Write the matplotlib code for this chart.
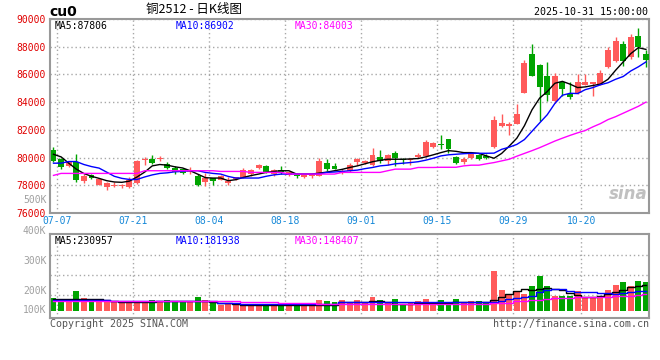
import matplotlib
matplotlib.use('Agg')
import matplotlib.pyplot as plt
import numpy as np

dates = ['07-07', '07-08', '07-09', '07-10', '07-11', '07-14', '07-15', '07-16', '07-17', '07-18',
         '07-21', '07-22', '07-23', '07-24', '07-25', '07-28', '07-29', '07-30', '07-31', '08-01',
         '08-04', '08-05', '08-06', '08-07', '08-08', '08-11', '08-12', '08-13', '08-14', '08-15',
         '08-18', '08-19', '08-20', '08-21', '08-22', '08-25', '08-26', '08-27', '08-28', '08-29',
         '09-01', '09-02', '09-03', '09-04', '09-05', '09-08', '09-09', '09-10', '09-11', '09-12',
         '09-15', '09-16', '09-17', '09-18', '09-19', '09-22', '09-23', '09-24', '09-25', '09-26',
         '09-29', '09-30', '10-09', '10-10', '10-13', '10-14', '10-15', '10-16', '10-17', '10-20',
         '10-21', '10-22', '10-23', '10-24', '10-27', '10-28', '10-29', '10-30', '10-31']

opens = [80550, 79880, 79400, 79690, 78330, 78760, 78050, 77900, 77980, 77930,
         77860, 78170, 79830, 79880, 79900, 79570, 79260, 79170, 78930, 78690,
         78210, 78500, 78400, 78170, 78450, 78550, 78810, 79240, 79380, 78810,
         79070, 78740, 78740, 78570, 78640, 78690, 79640, 79400, 78860, 79050,
         79690, 79600, 79480, 80020, 79760, 80360, 79880, 79790, 80070, 80120,
         80790, 80980, 81310, 80070, 79690, 80000, 80170, 80120, 80760, 82310,
         82260, 82400, 84640, 87450, 86660, 85880, 84050, 85450, 84570, 84670,
         85260, 85290, 85260, 86520, 87000, 88190, 87240, 88790, 87480]
highs = [80790, 79950, 79700, 80240, 78790, 78810, 78460, 78210, 78210, 78120,
         78600, 79810, 80070, 80170, 80120, 79670, 79360, 79260, 79290, 78810,
         78860, 78550, 78760, 78570, 78620, 79240, 79170, 79570, 79450, 79170,
         79360, 79050, 78880, 78780, 78810, 79980, 79880, 79640, 79170, 79590,
         80000, 79830, 80710, 80520, 80290, 80450, 79980, 79980, 80310, 81260,
         81100, 81600, 81360, 80120, 80070, 80360, 80240, 80240, 82980, 83170,
         82550, 83880, 87020, 88160, 86780, 86880, 86070, 85450, 85450, 86000,
         86000, 85450, 86290, 87950, 88710, 88380, 88900, 89330, 87760]
lows = [79700, 79170, 79330, 78260, 78170, 78450, 78000, 77690, 77860, 77790,
        77810, 78100, 79500, 79570, 79760, 79140, 78790, 78810, 78830, 77950,
        77950, 78020, 78350, 78020, 78400, 78500, 78690, 79190, 78880, 78690,
        78810, 78690, 78500, 78500, 78550, 78640, 79050, 79170, 78790, 78930,
        79500, 79550, 79400, 79640, 79500, 79400, 79520, 79500, 80000, 80070,
        80700, 80600, 80360, 79520, 79520, 79930, 79830, 79880, 80710, 82210,
        81600, 82400, 84640, 85880, 82620, 84050, 83930, 84430, 84260, 84570,
        85210, 84430, 85210, 86480, 86880, 86640, 87120, 87290, 86570]
closes = [79760, 79290, 79690, 78400, 78690, 78500, 78450, 78170, 78020, 77980,
          78400, 79760, 79880, 79620, 79950, 79240, 78980, 78860, 79090, 78020,
          78520, 78310, 78690, 78330, 78570, 79100, 79120, 79480, 78930, 79070,
          78980, 78930, 78640, 78710, 78760, 79760, 79170, 79190, 79050, 79450,
          79880, 79760, 80170, 79760, 80190, 80000, 79830, 79930, 80190, 81120,
          81020, 80930, 80640, 79600, 79880, 80240, 79930, 79980, 82740, 82500,
          82450, 83170, 86830, 85880, 85120, 84480, 85860, 84980, 84380, 85450,
          85450, 85450, 86100, 87790, 88430, 86950, 88710, 87950, 87050]

ma5 = [80237, 80050, 79600, 79166, 78850, 78650, 78500, 78333, 78240, 78214,
       78300, 78600, 78950, 79400, 79500, 79450, 79330, 79250, 79050, 78800,
       78550, 78520, 78524, 78333, 78405, 78570, 78700, 78810, 78930, 79000,
       79050, 79050, 78810, 78810, 78810, 78880, 78950, 79050, 79150, 79285,
       79400, 79550, 79700, 79800, 79880, 79880, 79880, 79900, 79930, 80050,
       80200, 80357, 80500, 80450, 80357, 80357, 80300, 80120, 79950, 80300,
       80830, 81400, 82300, 83450, 84290, 84760, 85360, 85500, 85300, 85050,
       85100, 85200, 85300, 85650, 86300, 86900, 87500, 87930, 87806]
ma10 = [79595, 79595, 79714, 79714, 79500, 79350, 79240, 78950, 78650, 78500,
        78420, 78420, 78600, 78750, 78857, 78900, 78976, 79000, 79050, 79050,
        78930, 78857, 78810, 78640, 78524, 78524, 78524, 78524, 78650, 78750,
        78810, 78810, 78810, 78810, 78810, 78830, 78930, 78960, 79000, 79050,
        79095, 79200, 79285, 79400, 79450, 79550, 79595, 79640, 79700, 79810,
        79950, 80120, 80200, 80240, 80280, 80310, 80310, 80310, 80320, 80595,
        80750, 80950, 81300, 81900, 82500, 83090, 83900, 84500, 84640, 84620,
        84900, 85050, 85250, 85400, 85650, 85850, 86250, 86550, 86902]
ma30 = [78714, 78857, 78857, 78857, 78857, 78857, 78857, 78857, 78857, 78857,
        78857, 78857, 79050, 79050, 79050, 79050, 79050, 79050, 79050, 79050,
        79050, 79050, 79000, 79000, 79000, 79000, 78930, 78930, 78930, 78930,
        78930, 78810, 78810, 78810, 78810, 78810, 78810, 78810, 78930, 78930,
        78930, 78930, 78930, 78930, 79050, 79166, 79166, 79166, 79285, 79285,
        79285, 79300, 79300, 79300, 79400, 79450, 79450, 79550, 79640, 79760,
        79880, 80100, 80300, 80500, 80714, 80950, 81190, 81400, 81600, 81785,
        81950, 82214, 82450, 82740, 82950, 83200, 83450, 83700, 84003]

volumes = [120000, 88000, 78000, 180000, 116000, 86000, 92000, 92000, 78000, 80000,
           80000, 85000, 86000, 98000, 88000, 100000, 86000, 86000, 86000, 128000,
           100000, 86000, 57000, 72000, 72000, 57000, 66000, 57000, 57000, 57000,
           66000, 72000, 57000, 72000, 57000, 101000, 86000, 78000, 95000, 78000,
           95000, 72000, 122000, 95000, 72000, 110000, 57000, 72000, 86000, 110000,
           72000, 101000, 72000, 110000, 78000, 86000, 86000, 72000, 350000, 189000,
           145000, 174000, 154000, 224000, 306000, 224000, 130000, 130000, 137000, 174000,
           121000, 121000, 130000, 189000, 233000, 253000, 218000, 268000, 260000]
vol_ma5 = [107000, 107000, 107000, 107000, 107000, 105000, 107000, 100000, 86000, 80000,
           78000, 78000, 78000, 80000, 86000, 86000, 86000, 86000, 86000, 90000,
           90000, 78000, 75000, 68000, 60000, 56000, 56000, 56000, 56000, 57000,
           57000, 57000, 57000, 57000, 55000, 52000, 52000, 55000, 78000, 78000,
           80000, 84000, 86000, 86000, 80000, 66000, 66000, 66000, 70000, 76000,
           72000, 72000, 75000, 80000, 80000, 80000, 82000, 80000, 100000, 124000,
           154000, 174000, 195000, 185000, 198000, 204000, 196000, 189000, 160000, 140000,
           124000, 124000, 136000, 154000, 170000, 189000, 210000, 225000, 230957]
vol_ma10 = [95000, 95000, 95000, 95000, 95000, 95000, 95000, 95000, 86000, 86000,
            86000, 86000, 86000, 86000, 86000, 86000, 86000, 86000, 86000, 86000,
            86000, 86000, 70000, 70000, 70000, 60000, 60000, 60000, 60000, 60000,
            60000, 60000, 60000, 60000, 60000, 60000, 60000, 60000, 80000, 80000,
            80000, 80000, 80000, 80000, 80000, 78000, 78000, 78000, 78000, 78000,
            78000, 78000, 78000, 78000, 78000, 78000, 78000, 78000, 80000, 90000,
            110000, 116000, 128000, 136000, 165000, 185000, 195000, 195000, 174000, 165000,
            165000, 165000, 160000, 158000, 155000, 158000, 165000, 175000, 181938]
vol_ma30 = [93000, 93000, 93000, 93000, 93000, 93000, 93000, 93000, 93000, 93000,
            93000, 93000, 93000, 93000, 93000, 93000, 93000, 93000, 93000, 93000,
            93000, 93000, 93000, 93000, 93000, 80000, 80000, 80000, 80000, 80000,
            72000, 72000, 72000, 72000, 72000, 67000, 67000, 67000, 67000, 67000,
            67000, 67000, 67000, 67000, 67000, 67000, 67000, 67000, 67000, 67000,
            67000, 67000, 67000, 67000, 67000, 67000, 67000, 67000, 72000, 72000,
            72000, 88000, 92000, 98000, 101000, 108000, 112000, 116000, 118000, 122000,
            122000, 122000, 122000, 126000, 130000, 134000, 138000, 143000, 148407]

tick_dates = ['07-07', '07-21', '08-04', '08-18', '09-01', '09-15', '09-29', '10-20']
price_ticks = [76000, 78000, 80000, 82000, 84000, 86000, 88000, 90000]
vol_labels = ['500K', '400K', '300K', '200K', '100K']

RED = '#ff5a5a'
GREEN = '#00a400'
GRID = '#a8a8a8'
FRAME = '#999999'
plt.rcParams['font.family'] = ['DejaVu Sans Mono', 'Noto Sans CJK SC']

W, H = 660, 360
fig = plt.figure(figsize=(6.6, 3.6), dpi=100)


def box(left, top, right, bottom):
    return [left / W, 1 - bottom / H, (right - left) / W, (bottom - top) / H]


ax = fig.add_axes(box(50, 19, 649, 213))
axv = fig.add_axes(box(50, 234, 649, 318))

x = np.arange(len(dates))
o, h, l, c = (np.array(v) for v in (opens, highs, lows, closes))
colors = np.where(c >= o, RED, GREEN)
xt = [dates.index(d) + 0.5 for d in tick_dates]

for a in (ax, axv):
    a.set_xlim(-0.46, len(dates) - 0.6)
    a.set_xticks(xt)
    a.grid(True, color=GRID, linestyle=(0, (1, 2)), linewidth=1)
    a.set_axisbelow(True)
    for s in a.spines.values():
        s.set_color(FRAME)
        s.set_linewidth(1.5)
    a.tick_params(length=0)

# price panel
ax.vlines(x, l, h, colors=colors, linewidth=1, zorder=2)
ax.bar(x, np.maximum(np.abs(c - o), 70), bottom=np.minimum(o, c), width=0.78,
       color=colors, linewidth=0, zorder=3)
ax.plot(x, ma5, color='black', lw=1, zorder=4)
ax.plot(x, ma10, color='#0000ff', lw=1, zorder=4)
ax.plot(x, ma30, color='#ff00ff', lw=1, zorder=4)
ax.set_ylim(price_ticks[0], price_ticks[-1])
ax.set_yticks(price_ticks)
ax.set_yticklabels([str(v) for v in price_ticks])
ax.tick_params(axis='y', labelcolor='#e00000', labelsize=7, pad=3)
ax.set_xticklabels(tick_dates)
ax.tick_params(axis='x', labelcolor='#1588d8', labelsize=7, pad=2)

ax.text(0.008, 0.99, f'MA5:{ma5[-1]}', transform=ax.transAxes, fontsize=7, va='top')
ax.text(0.209, 0.99, f'MA10:{ma10[-1]}', transform=ax.transAxes, fontsize=7, va='top', color='#0000ff')
ax.text(0.409, 0.99, f'MA30:{ma30[-1]}', transform=ax.transAxes, fontsize=7, va='top', color='#ff00ff')
ax.text(0.965, 0.1, 'sina', transform=ax.transAxes, fontsize=12, ha='center', va='center',
        color='#c0c0c0', style='italic', fontweight='bold', family='DejaVu Sans', zorder=1)

# volume panel
vlo, vhi = -59900, 679300
axv.set_ylim(vlo, vhi)
axv.bar(x, volumes, width=0.78, color=colors, linewidth=0, zorder=2)
axv.plot(x, vol_ma5, color='black', lw=1, drawstyle='steps-mid', zorder=3)
axv.plot(x, vol_ma10, color='#0000ff', lw=1, drawstyle='steps-mid', zorder=3)
axv.plot(x, vol_ma30, color='#ff00ff', lw=1, drawstyle='steps-mid', zorder=3)
axv.set_yticks([vlo + f * (vhi - vlo) for f in (0.277, 0.515, 0.754)])
axv.set_yticklabels([])
axv.set_xticklabels([])
for lab, y in zip(vol_labels, (200, 231, 261, 291, 310)):
    axv.text(-0.006, (318 - y) / 84, lab, transform=axv.transAxes, ha='right', va='center',
             fontsize=7, color='#a0a0a0', clip_on=False)
axv.text(0.008, 0.98, f'MA5:{vol_ma5[-1]}', transform=axv.transAxes, fontsize=7, va='top')
axv.text(0.209, 0.98, f'MA10:{vol_ma10[-1]}', transform=axv.transAxes, fontsize=7, va='top', color='#0000ff')
axv.text(0.409, 0.98, f'MA30:{vol_ma30[-1]}', transform=axv.transAxes, fontsize=7, va='top', color='#ff00ff')

# header and footer
fig.text(49 / W, 1 - 12 / H, 'cu0', fontsize=10, fontweight='bold', va='center', family='DejaVu Sans')
fig.text(194 / W, 1 - 10 / H, '铜2512 - 日K线图', fontsize=9, ha='center', va='center',
         family=['Noto Sans CJK SC', 'DejaVu Sans'])
fig.text(648 / W, 1 - 12 / H, '2025-10-31 15:00:00', fontsize=7.2, ha='right', va='center')
fig.text(50 / W, 1 - 324 / H, 'Copyright 2025 SINA.COM', fontsize=7.2, va='center', color='#555555')
fig.text(649 / W, 1 - 324 / H, 'http://finance.sina.com.cn', fontsize=7.2, ha='right', va='center',
         color='#555555')

fig.savefig('out.png', dpi=100)
